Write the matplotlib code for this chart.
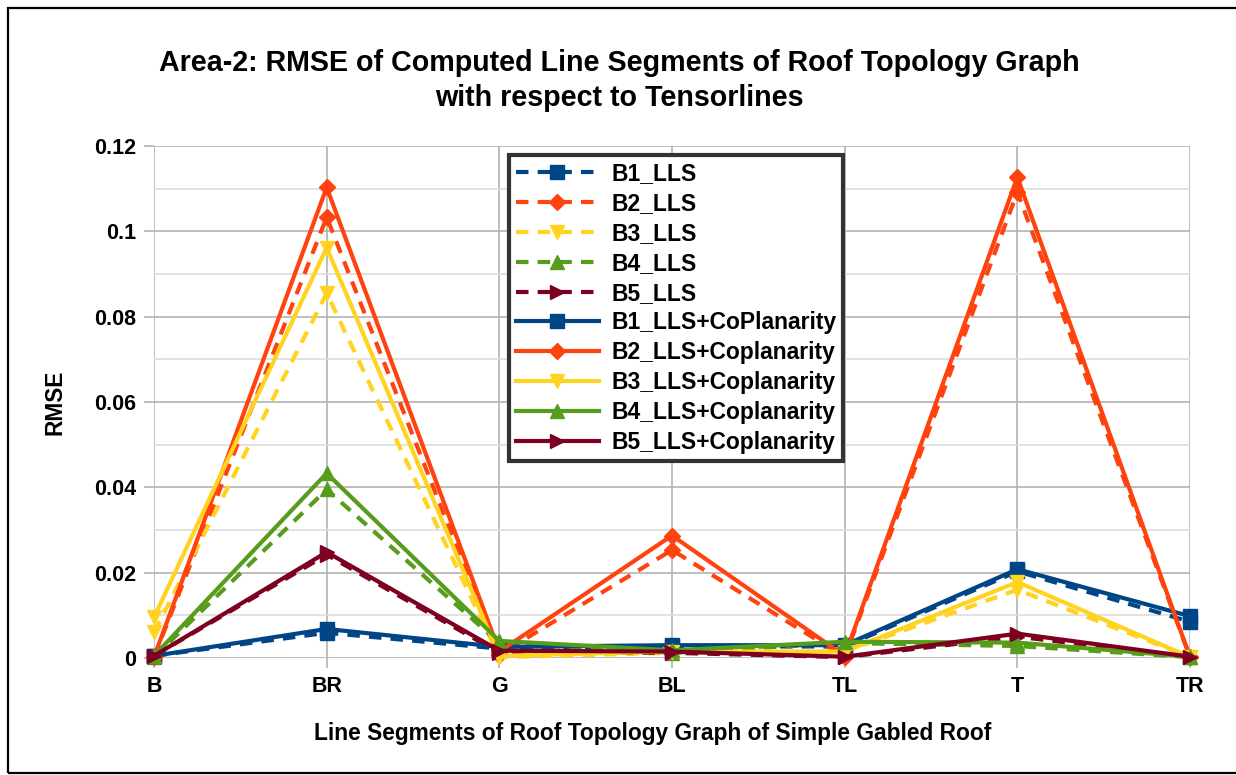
import numpy as np
import matplotlib
matplotlib.use('Agg')
import matplotlib.pyplot as plt
from matplotlib.patches import Rectangle

plt.rcParams['font.family'] = ['Liberation Sans', 'DejaVu Sans']
plt.rcParams['font.weight'] = 'bold'

segments = ['B', 'BR', 'G', 'BL', 'TL', 'T', 'TR']

# RMSE, LLS only (dashed)
b1_lls = [0.0005, 0.0059, 0.0022, 0.0027, 0.0027, 0.0203, 0.0085]
b2_lls = [0.0002, 0.1033, 0.0008, 0.0253, 0.0002, 0.1092, 0.0002]
b3_lls = [0.0060, 0.0855, 0.0002, 0.0012, 0.0015, 0.0160, 0.0002]
b4_lls = [0.0002, 0.0395, 0.0035, 0.0012, 0.0035, 0.0028, 0.0002]
b5_lls = [0.0005, 0.0242, 0.0012, 0.0012, 0.0002, 0.0050, 0.0002]

# RMSE, LLS + coplanarity (solid)
b1_cop = [0.0005, 0.0068, 0.0026, 0.0030, 0.0030, 0.0208, 0.0098]
b2_cop = [0.0002, 0.1103, 0.0015, 0.0287, 0.0005, 0.1127, 0.0002]
b3_cop = [0.0095, 0.0962, 0.0005, 0.0015, 0.0015, 0.0178, 0.0002]
b4_cop = [0.0005, 0.0433, 0.0040, 0.0018, 0.0038, 0.0036, 0.0003]
b5_cop = [0.0005, 0.0248, 0.0017, 0.0015, 0.0003, 0.0057, 0.0003]

colors = ['#004586', '#ff420e', '#ffd320', '#579d1c', '#7e0021']
markers = ['s', 'D', 'v', '^', '>']
msizes = [10, 8, 10, 10, 10]

fig = plt.figure(figsize=(12.36, 7.75), dpi=100)
ax = fig.add_axes([0.1246, 0.151, 0.8382, 0.6606])

x = np.arange(len(segments))
dashed = [b1_lls, b2_lls, b3_lls, b4_lls, b5_lls]
solid = [b1_cop, b2_cop, b3_cop, b4_cop, b5_cop]
for i, ys in enumerate(dashed):
    ax.plot(x, ys, color=colors[i], lw=3, ls=(0, (3, 2.2)), marker=markers[i],
            ms=msizes[i], label=f'B{i+1}_LLS', clip_on=False, zorder=3)
sol_names = ['B1_LLS+CoPlanarity'] + [f'B{i}_LLS+Coplanarity' for i in range(2, 6)]
for i, ys in enumerate(solid):
    ax.plot(x, ys, color=colors[i], lw=3, marker=markers[i], ms=msizes[i],
            label=sol_names[i], clip_on=False, zorder=4)

ax.set_xlim(0, len(segments) - 1)
ax.set_ylim(0, 0.12)
ax.set_xticks(x)
ax.set_xticklabels(segments)
ax.set_yticks(np.arange(0, 0.121, 0.02))
ax.set_yticklabels(['0', '0.02', '0.04', '0.06', '0.08', '0.1', '0.12'])
ax.set_yticks(np.arange(0.01, 0.12, 0.02), minor=True)
ax.tick_params(axis='both', which='major', labelsize=15.5, length=7,
               width=1.2, color='#b3b3b3', pad=6)
ax.tick_params(axis='y', which='minor', length=0)
ax.grid(which='major', color='#b3b3b3', lw=1.2)
ax.grid(which='minor', axis='y', color='#dddddd', lw=1.2)
ax.set_axisbelow(True)
for s in ax.spines.values():
    s.set_visible(False)

ax.set_ylabel('RMSE', fontsize=16.3, fontweight='bold', labelpad=20)
fig.text(0.528, 0.054, 'Line Segments of Roof Topology Graph of Simple Gabled Roof',
         ha='center', va='center', fontsize=16.4, fontweight='bold')
fig.text(0.501, 0.896, 'Area-2: RMSE of Computed Line Segments of Roof Topology Graph\n'
         'with respect to Tensorlines', ha='center', va='center',
         fontsize=20.6, fontweight='bold', linespacing=1.3)

leg = ax.legend(loc='upper left', bbox_to_anchor=(0.343, 0.982), borderaxespad=0,
                fontsize=16.5, handlelength=3.6, handletextpad=0.55,
                labelspacing=0.3, fancybox=False, framealpha=1,
                borderpad=0.3)
leg.get_frame().set_edgecolor('#333333')
leg.get_frame().set_linewidth(3)
leg.set_zorder(10)

fig.patches.append(Rectangle((7.5 / 1236, 2 / 775), 1.0, 1 - 10 / 775,
                             transform=fig.transFigure, fill=False,
                             edgecolor='black', lw=1.6))

fig.savefig('out.png', dpi=100)
